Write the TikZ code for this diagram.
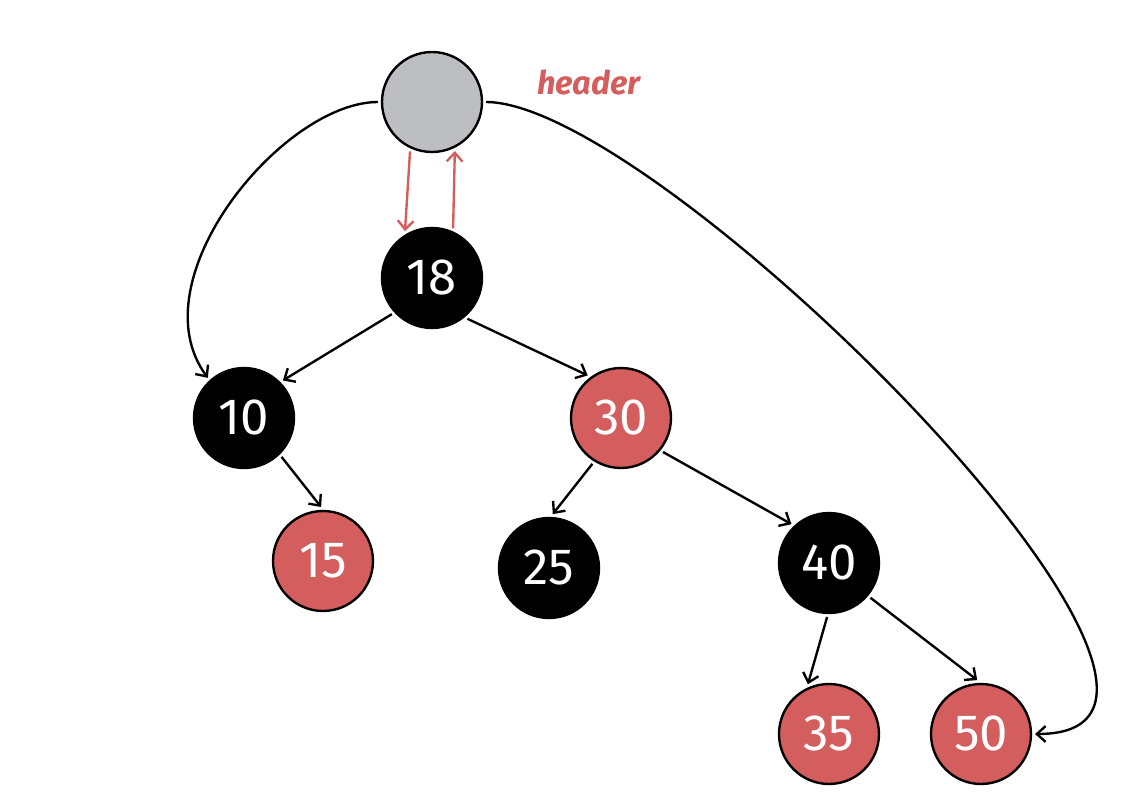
\documentclass[tikz,border=0pt]{standalone}
\usepackage{fontspec}
\setmainfont{Fira Sans}
\usetikzlibrary{arrows.meta}
\definecolor{rbred}{HTML}{D45D5D}
\definecolor{hdgray}{HTML}{BCBEC2}
\tikzset{
  tnode/.style={circle, minimum size=2cm, inner sep=0pt, outer sep=2.3pt, line width=1.35pt, draw=black, text=white, font=\fontsize{29}{33}\selectfont},
  blk/.style={tnode, fill=black},
  rd/.style={tnode, fill=rbred},
  hd/.style={tnode, fill=hdgray},
  edge/.style={line width=1.35pt, -{Straight Barb[length=5pt,width=9pt,line width=1.35pt]}},
  redge/.style={edge, draw=rbred},
}
\begin{document}
\begin{tikzpicture}[x=0.02cm, y=-0.02cm]
\useasboundingbox (0,0) rectangle (1144,812);
\node[hd]  (h)   at (432,102) {};
\node[blk] (n18) at (432,278) {18};
\node[blk] (n10) at (244,418) {10};
\node[rd]  (n30) at (621,418) {30};
\node[rd]  (n15) at (323,561) {15};
\node[blk] (n25) at (549,568) {25};
\node[blk] (n40) at (829,563) {40};
\node[rd]  (n35) at (829,734) {35};
\node[rd]  (n50) at (981,734) {50};
\node[text=rbred, font=\fontsize{18.5}{22}\selectfont\bfseries\itshape] (lbl) at (589,82) {header};

\draw[redge] (h.-114) -- (n18.120);
\draw[redge] (n18.67) -- (h.-65);

\draw[edge] (n18.222) -- (n10.44);
\draw[edge] (n18.-49) -- (n30.128);
\draw[edge] (n10.-46) -- (n15.92);
\draw[edge] (n30.238) -- (n25.86);
\draw[edge] (n30.-39) -- (n40.134);
\draw[edge] (n40.-92) -- (n35.113);
\draw[edge] (n40.-40) -- (n50.94);

\draw[edge] (h.180) .. controls +(-95,0) and +(-72,-98) .. (n10.132);
\draw[edge] (h.0) .. controls +(175,0) and +(255,0) .. (n50.0);
\end{tikzpicture}
\end{document}
